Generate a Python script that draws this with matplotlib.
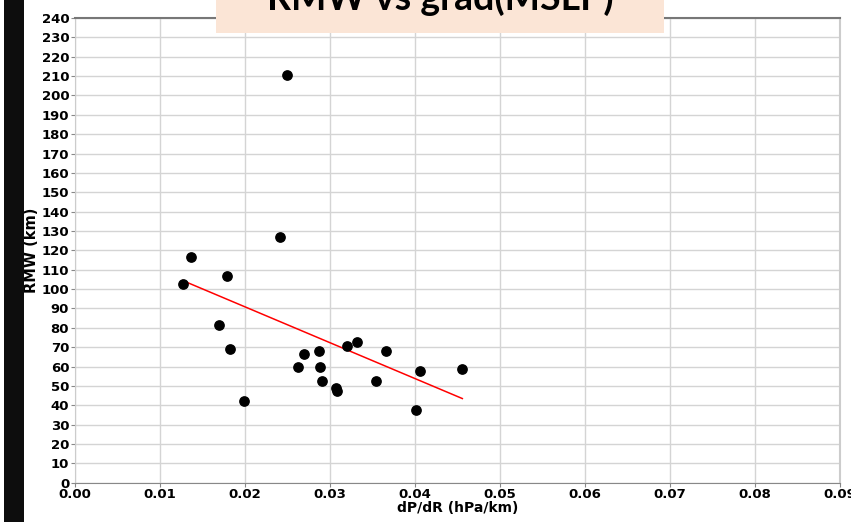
import numpy as np
import matplotlib.pyplot as plt
from matplotlib.patches import Rectangle

# RMW vs pressure gradient
dpdr = [0.0127, 0.0137, 0.0170, 0.0179, 0.0183, 0.0199, 0.0241, 0.0250,
        0.0263, 0.0270, 0.0287, 0.0289, 0.0291, 0.0307, 0.0309, 0.0320,
        0.0332, 0.0355, 0.0366, 0.0401, 0.0406, 0.0456]
rmw = [102.6, 116.7, 81.5, 106.8, 68.9, 42.4, 126.7, 210.5,
       59.9, 66.5, 68.0, 59.9, 52.5, 49.1, 47.5, 70.6,
       72.8, 52.5, 68.0, 37.6, 57.5, 58.9]

x_ticks = [0.00, 0.01, 0.02, 0.03, 0.04, 0.05, 0.06, 0.07, 0.08, 0.09]
y_ticks = list(range(0, 250, 10))

title = "RMW vs grad(MSLP)"

x = np.array(dpdr)
y = np.array(rmw)

fig = plt.figure(figsize=(8.51, 5.22), dpi=100)

# dark strip on the left edge (slide background)
fig.patches.append(Rectangle((4 / 851, 0), 20 / 851, 1, transform=fig.transFigure,
                             facecolor="#0d0d0d", edgecolor="none", zorder=0))

ax = fig.add_axes([0.0878, 0.0753, 0.899, 0.8902])
ax.scatter(x, y, s=45, color="black", zorder=3)

# least squares line
slope, icpt = np.polyfit(x, y, 1)
xl = np.array([x.min(), x.max()])
ax.plot(xl, slope * xl + icpt, color="red", lw=1.1, zorder=2)

ax.set_xlim(0, 0.09)
ax.set_ylim(0, 240)
ax.set_xticks(x_ticks)
ax.set_xticklabels(["%.2f" % v for v in x_ticks])
ax.set_yticks(y_ticks)
ax.grid(True, color="#d4d4d4", lw=1)
ax.set_axisbelow(True)
for lab in ax.get_xticklabels() + ax.get_yticklabels():
    lab.set_fontweight("bold")
    lab.set_fontsize(9.5)
ax.tick_params(length=3, width=0.8, color="#888888", pad=1)

ax.spines["top"].set_color("#777777")
ax.spines["top"].set_linewidth(1.5)
ax.spines["bottom"].set_color("#888888")
ax.spines["left"].set_color("#cccccc")
ax.spines["right"].set_color("#cccccc")
ax.spines["right"].set_linewidth(1.5)

ax.set_xlabel("dP/dR (hPa/km)", fontsize=10, fontweight="bold", labelpad=0)
ax.set_ylabel("RMW (km)", fontsize=10.5, fontweight="bold", labelpad=2)

# peach title box cut off at the top
fig.patches.append(Rectangle((216 / 851, 1 - 33 / 522), 448 / 851, 33 / 522,
                             transform=fig.transFigure, facecolor="#fbe5d6",
                             edgecolor="none", zorder=5))
fig.text(440 / 851, 1 - 10 / 522, title, ha="center", va="baseline",
         fontsize=27, fontweight="bold", family="Lato", zorder=6)

fig.savefig("out.png", dpi=100)
